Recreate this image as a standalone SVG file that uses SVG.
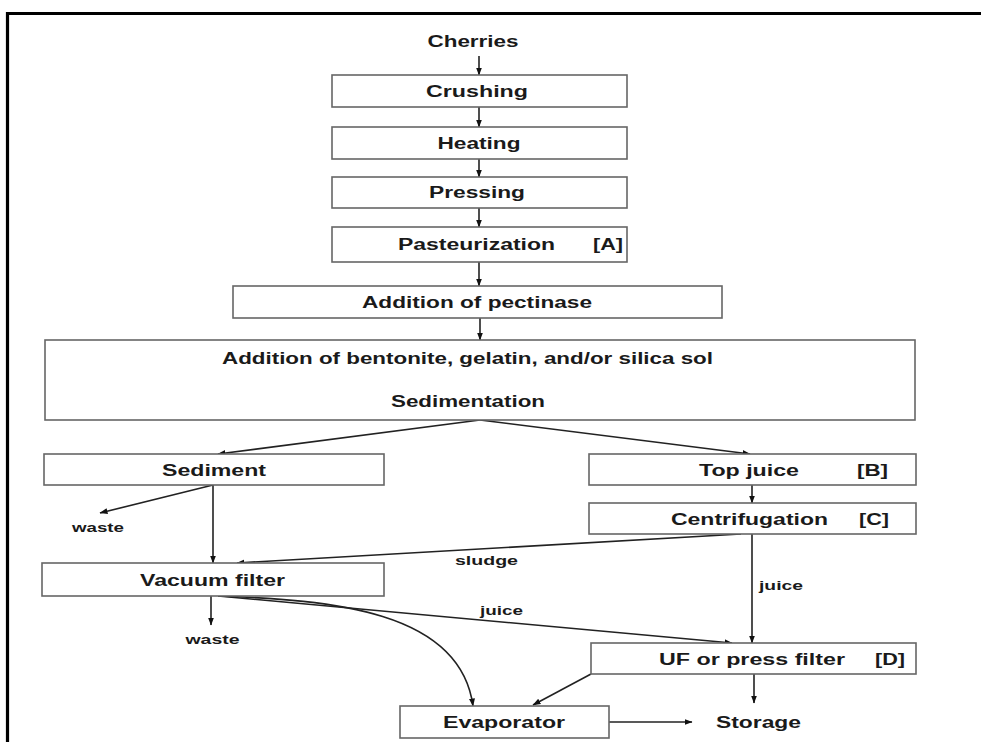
<svg xmlns="http://www.w3.org/2000/svg" width="981" height="742" viewBox="0 0 981 742">
<style>
.box{fill:#fff;stroke:#666;stroke-width:1.6}
.t{font-family:"Liberation Sans",Arial,sans-serif;font-weight:bold;font-size:16px;fill:#1a1a1a;text-anchor:middle}
.s{font-family:"Liberation Sans",Arial,sans-serif;font-weight:bold;font-size:13.5px;fill:#1a1a1a;text-anchor:middle}
.c{fill:none;stroke:#222;stroke-width:1.6}
</style>
<defs>
<marker id="ah" markerUnits="userSpaceOnUse" markerWidth="8" markerHeight="8" viewBox="0 0 8 8" refX="7.5" refY="4" orient="auto">
<path d="M0,1 L8,4 L0,7 Z" fill="#111"/>
</marker>
</defs>
<rect width="981" height="742" fill="#fff"/>
<path d="M7.5,742 V13.5 H981" fill="none" stroke="#000" stroke-width="3.2"/>

<g id="connectors">
<line class="c" x1="479" y1="56" x2="479" y2="75" marker-end="url(#ah)"/>
<line class="c" x1="479" y1="107" x2="479" y2="127" marker-end="url(#ah)"/>
<line class="c" x1="479" y1="159" x2="479" y2="177" marker-end="url(#ah)"/>
<line class="c" x1="479" y1="208" x2="479" y2="227" marker-end="url(#ah)"/>
<line class="c" x1="479" y1="262" x2="479" y2="286" marker-end="url(#ah)"/>
<line class="c" x1="480" y1="318" x2="480" y2="340" marker-end="url(#ah)"/>
<line class="c" x1="480" y1="420" x2="218" y2="454" marker-end="url(#ah)"/>
<line class="c" x1="480" y1="420" x2="750" y2="454" marker-end="url(#ah)"/>
<line class="c" x1="213" y1="485" x2="100" y2="513" marker-end="url(#ah)"/>
<line class="c" x1="213" y1="485" x2="213" y2="563" marker-end="url(#ah)"/>
<line class="c" x1="752" y1="485" x2="752" y2="503" marker-end="url(#ah)"/>
<line class="c" x1="741" y1="534" x2="237" y2="563" marker-end="url(#ah)"/>
<line class="c" x1="752" y1="534" x2="752" y2="643" marker-end="url(#ah)"/>
<line class="c" x1="211" y1="596" x2="211" y2="625" marker-end="url(#ah)"/>
<line class="c" x1="218" y1="596" x2="732" y2="643" marker-end="url(#ah)"/>
<path class="c" d="M218,596 C330,600 460,610 473,706" marker-end="url(#ah)"/>
<line class="c" x1="591" y1="674" x2="533" y2="705" marker-end="url(#ah)"/>
<line class="c" x1="754" y1="674" x2="754" y2="703" marker-end="url(#ah)"/>
<line class="c" x1="609" y1="722" x2="692" y2="722" marker-end="url(#ah)"/>
<text class="s" x="486.5" y="565" textLength="63" lengthAdjust="spacingAndGlyphs">sludge</text>
<text class="s" x="501.5" y="615" textLength="43" lengthAdjust="spacingAndGlyphs">juice</text>
<text class="s" x="781" y="590" textLength="44" lengthAdjust="spacingAndGlyphs">juice</text>
</g>

<g id="cherries"><text class="t" x="473" y="47" textLength="91" lengthAdjust="spacingAndGlyphs">Cherries</text></g>
<g id="crushing"><rect class="box" x="332" y="75" width="295" height="32"/><text class="t" x="477" y="96.5" textLength="102" lengthAdjust="spacingAndGlyphs">Crushing</text></g>
<g id="heating"><rect class="box" x="332" y="127" width="295" height="32"/><text class="t" x="479" y="148.5" textLength="83" lengthAdjust="spacingAndGlyphs">Heating</text></g>
<g id="pressing"><rect class="box" x="332" y="177" width="295" height="31"/><text class="t" x="477" y="198" textLength="96" lengthAdjust="spacingAndGlyphs">Pressing</text></g>
<g id="pasteurization"><rect class="box" x="332" y="227" width="295" height="35"/><text class="t" x="476.5" y="250" textLength="157" lengthAdjust="spacingAndGlyphs">Pasteurization</text><text class="t" x="608" y="250" textLength="30" lengthAdjust="spacingAndGlyphs">[A]</text></g>
<g id="pectinase"><rect class="box" x="233" y="286" width="489" height="32"/><text class="t" x="477" y="307.5" textLength="230" lengthAdjust="spacingAndGlyphs">Addition of pectinase</text></g>
<g id="sedimentation"><rect class="box" x="45" y="340" width="870" height="80"/><text class="t" x="467.5" y="364" textLength="491" lengthAdjust="spacingAndGlyphs">Addition of bentonite, gelatin, and/or silica sol</text><text class="t" x="468" y="406.5" textLength="154" lengthAdjust="spacingAndGlyphs">Sedimentation</text></g>
<g id="sediment"><rect class="box" x="44" y="454" width="340" height="31"/><text class="t" x="214" y="475.5" textLength="104" lengthAdjust="spacingAndGlyphs">Sediment</text></g>
<g id="waste1"><text class="s" x="98" y="532" textLength="52" lengthAdjust="spacingAndGlyphs">waste</text></g>
<g id="topjuice"><rect class="box" x="589" y="454" width="327" height="31"/><text class="t" x="749" y="475.5" textLength="100" lengthAdjust="spacingAndGlyphs">Top juice</text><text class="t" x="872.5" y="475.5" textLength="31" lengthAdjust="spacingAndGlyphs">[B]</text></g>
<g id="centrifugation"><rect class="box" x="589" y="503" width="327" height="31"/><text class="t" x="749.5" y="524.5" textLength="157" lengthAdjust="spacingAndGlyphs">Centrifugation</text><text class="t" x="874" y="524.5" textLength="30" lengthAdjust="spacingAndGlyphs">[C]</text></g>
<g id="vacuum"><rect class="box" x="42" y="563" width="342" height="33"/><text class="t" x="212.5" y="585.5" textLength="145" lengthAdjust="spacingAndGlyphs">Vacuum filter</text></g>
<g id="waste2"><text class="s" x="212.5" y="644" textLength="54" lengthAdjust="spacingAndGlyphs">waste</text></g>
<g id="uf"><rect class="box" x="591" y="643" width="325" height="31"/><text class="t" x="752" y="664.5" textLength="186" lengthAdjust="spacingAndGlyphs">UF or press filter</text><text class="t" x="890" y="664.5" textLength="30" lengthAdjust="spacingAndGlyphs">[D]</text></g>
<g id="evaporator"><rect class="box" x="400" y="706" width="209" height="32"/><text class="t" x="504" y="727.5" textLength="122" lengthAdjust="spacingAndGlyphs">Evaporator</text></g>
<g id="storage"><text class="t" x="758.5" y="727.5" textLength="85" lengthAdjust="spacingAndGlyphs">Storage</text></g>
</svg>
